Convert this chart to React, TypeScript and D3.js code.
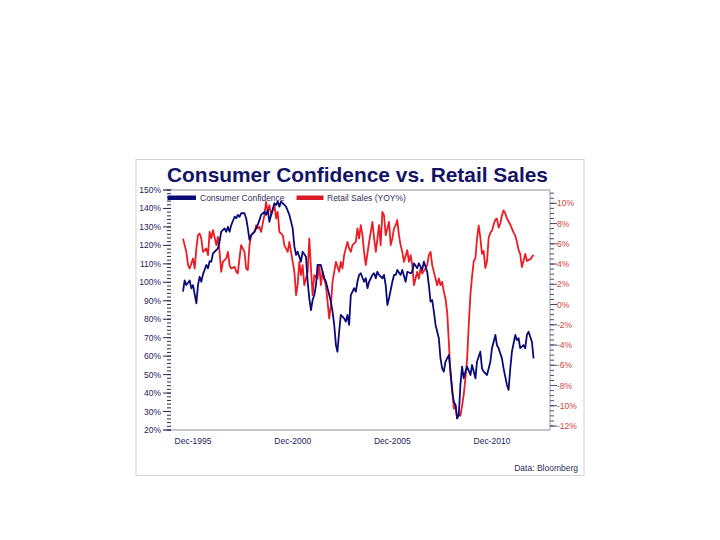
import * as d3 from "d3";

// Consumer Confidence index (left axis, %)
const ccDates = [
  "1995-06", "1995-07", "1995-08", "1995-10", "1995-11", "1995-12", "1996-02", "1996-03", "1996-04", "1996-05",
  "1996-06", "1996-08", "1996-09", "1996-10", "1996-11", "1996-12", "1997-02", "1997-03", "1997-04", "1997-05",
  "1997-07", "1997-08", "1997-09", "1997-10", "1997-11", "1998-01", "1998-02", "1998-03", "1998-04", "1998-05",
  "1998-07", "1998-08", "1998-09", "1998-10", "1998-11", "1999-01", "1999-02", "1999-03", "1999-04", "1999-05",
  "1999-07", "1999-08", "1999-09", "1999-10", "1999-11", "2000-01", "2000-02", "2000-03", "2000-04", "2000-05",
  "2000-07", "2000-08", "2000-10", "2000-12", "2001-01", "2001-02", "2001-03", "2001-05", "2001-06", "2001-08",
  "2001-09", "2001-10", "2001-11", "2001-12", "2002-01", "2002-02", "2002-03", "2002-05", "2002-06", "2002-07",
  "2002-08", "2002-09", "2002-11", "2002-12", "2003-01", "2003-02", "2003-03", "2003-04", "2003-05", "2003-07",
  "2003-08", "2003-09", "2003-10", "2003-11", "2004-01", "2004-02", "2004-03", "2004-04", "2004-05", "2004-07",
  "2004-08", "2004-09", "2004-10", "2004-12", "2005-01", "2005-02", "2005-03", "2005-04", "2005-06", "2005-07",
  "2005-08", "2005-09", "2005-10", "2005-12", "2006-01", "2006-02", "2006-03", "2006-05", "2006-06", "2006-08",
  "2006-09", "2006-11", "2006-12", "2007-01", "2007-03", "2007-04", "2007-06", "2007-07", "2007-09", "2007-10",
  "2007-11", "2007-12", "2008-01", "2008-02", "2008-04", "2008-05", "2008-06", "2008-07", "2008-08", "2008-10",
  "2008-11", "2008-12", "2009-01", "2009-02", "2009-03", "2009-04", "2009-05", "2009-06", "2009-07", "2009-08",
  "2009-09", "2009-11", "2009-12", "2010-02", "2010-03", "2010-05", "2010-06", "2010-07", "2010-09", "2010-11",
  "2010-12", "2011-02", "2011-03", "2011-04", "2011-06", "2011-07", "2011-09", "2011-10", "2011-11", "2011-12",
  "2012-02", "2012-03", "2012-04", "2012-05", "2012-07", "2012-08", "2012-09", "2012-10", "2012-12", "2013-01",
];
const ccValues = [
  95, 101, 98.5, 101, 96.7, 98.5, 88.6, 98.5, 103, 100.3,
  104.3, 109.4, 107.6, 111.5, 111.2, 115.7, 117.5, 118.4, 122, 127.4,
  129.2, 127.4, 130.1, 127.4, 131, 135.5, 134.7, 136.5, 135.5, 137.4,
  137.4, 134.7, 129.2, 123, 125.6, 127.4, 129.2, 131, 133.7, 136.5,
  138.2, 136.5, 139.2, 132.8, 136.5, 142.8, 141.9, 143.7, 141, 143.7,
  141.9, 141, 136.5, 129.2, 119.3, 114.8, 116.6, 111.2, 116.6, 113.9,
  100.3, 91.3, 85, 90.4, 93.1, 98.5, 109.4, 109.4, 105.7, 102.2,
  100.3, 96.8, 89.5, 84.1, 76.9, 66, 62.4, 73.2, 82.3, 80.5,
  78.7, 82.3, 76.9, 93.1, 96.8, 94.9, 100.3, 104, 104.9, 100.3,
  102.2, 96.8, 100.3, 104, 104.9, 102.2, 105.7, 104, 102.2, 104,
  98.5, 87.7, 91.3, 100.3, 104, 104, 106.7, 104, 106.7, 100.3,
  105.7, 104.9, 105.7, 110.3, 107.6, 110.3, 106.7, 111.2, 105.7, 98.5,
  89.5, 90.4, 84.1, 76.9, 69.7, 58.8, 53.4, 51.6, 57, 60.6,
  51.6, 40.7, 35.3, 33.5, 26.3, 28, 44.4, 54.3, 48, 51.6,
  54.3, 49.8, 55.2, 48, 57, 62.4, 53.4, 51.6, 49.8, 57,
  64.3, 71.5, 66, 64.3, 58.8, 53.4, 44.4, 41.7, 53.4, 62.4,
  71.5, 68.7, 69.7, 64.3, 66, 64.3, 71.5, 73.2, 67.8, 58.8,
];

// Retail Sales YoY (right axis, %)
const rsDates = [
  "1995-06", "1995-07", "1995-08", "1995-09", "1995-10", "1995-12", "1996-01", "1996-02", "1996-03", "1996-04",
  "1996-05", "1996-06", "1996-08", "1996-09", "1996-10", "1996-11", "1996-12", "1997-02", "1997-03", "1997-04",
  "1997-05", "1997-06", "1997-08", "1997-09", "1997-10", "1997-11", "1998-01", "1998-02", "1998-03", "1998-04",
  "1998-05", "1998-07", "1998-08", "1998-09", "1998-10", "1998-11", "1999-01", "1999-02", "1999-03", "1999-04",
  "1999-05", "1999-07", "1999-08", "1999-09", "1999-10", "1999-11", "2000-01", "2000-02", "2000-03", "2000-04",
  "2000-06", "2000-07", "2000-09", "2000-10", "2000-12", "2001-01", "2001-02", "2001-03", "2001-04", "2001-05",
  "2001-06", "2001-07", "2001-09", "2001-10", "2001-11", "2001-12", "2002-01", "2002-03", "2002-04", "2002-05",
  "2002-06", "2002-07", "2002-08", "2002-09", "2002-10", "2002-11", "2002-12", "2003-01", "2003-02", "2003-04",
  "2003-05", "2003-06", "2003-07", "2003-09", "2003-10", "2003-11", "2003-12", "2004-02", "2004-03", "2004-04",
  "2004-05", "2004-06", "2004-07", "2004-08", "2004-10", "2004-11", "2004-12", "2005-01", "2005-02", "2005-04",
  "2005-05", "2005-06", "2005-07", "2005-08", "2005-10", "2005-11", "2005-12", "2006-01", "2006-02", "2006-03",
  "2006-04", "2006-05", "2006-06", "2006-07", "2006-09", "2006-10", "2006-11", "2006-12", "2007-01", "2007-03",
  "2007-04", "2007-05", "2007-06", "2007-08", "2007-09", "2007-10", "2007-11", "2007-12", "2008-01", "2008-03",
  "2008-04", "2008-05", "2008-06", "2008-07", "2008-08", "2008-09", "2008-10", "2008-11", "2008-12", "2009-01",
  "2009-02", "2009-03", "2009-04", "2009-05", "2009-06", "2009-07", "2009-08", "2009-09", "2009-10", "2009-11",
  "2009-12", "2010-01", "2010-02", "2010-03", "2010-04", "2010-05", "2010-06", "2010-07", "2010-08", "2010-09",
  "2010-10", "2010-11", "2010-12", "2011-01", "2011-02", "2011-03", "2011-04", "2011-05", "2011-06", "2011-07",
  "2011-08", "2011-09", "2011-10", "2011-11", "2011-12", "2012-01", "2012-02", "2012-03", "2012-04", "2012-05",
  "2012-06", "2012-07", "2012-08", "2012-09", "2012-10", "2012-11", "2012-12", "2013-01",
];
const rsValues = [
  6.5, 5.87, 5.2, 3.89, 3.56, 4.55, 3.56, 5.54, 6.85, 7.02,
  6.53, 5.2, 5.54, 4.88, 7.18, 6.53, 7.35, 5.87, 6.69, 5.2,
  3.23, 4.22, 4.55, 5.2, 3.89, 3.56, 3.72, 3.23, 3.07, 4.55,
  5.87, 5.2, 3.56, 3.39, 5.87, 6.85, 7.18, 7.84, 7.52, 7.67,
  7.18, 8.83, 10.14, 9.16, 9.82, 8.83, 9.82, 8.5, 9.16, 7.18,
  6.85, 5.87, 5.2, 6.19, 4.22, 3.23, 0.92, 1.91, 4.22, 2.9,
  3.89, 1.91, 3.23, 6.53, 3.56, 0.92, 2.9, 2.57, 3.89, 1.91,
  3.23, 2.57, 1.91, 0.26, -1.38, -0.06, 2.24, 3.23, 4.22, 3.23,
  4.22, 3.56, 4.88, 6.19, 5.54, 5.2, 5.87, 6.19, 7.52, 6.53,
  7.84, 6.85, 5.2, 3.89, 6.19, 7.18, 8.17, 6.53, 5.2, 7.84,
  5.87, 9.16, 8.83, 6.85, 8.17, 5.87, 6.53, 7.52, 7.84, 8.34,
  6.85, 5.87, 5.2, 4.22, 5.37, 4.22, 4.88, 3.89, 1.91, 3.23,
  2.57, 3.56, 3.07, 3.56, 3.89, 4.88, 5.2, 3.89, 3.23, 1.91,
  2.57, 1.91, 2.24, 1.25, 0.6, -0.8, -3.69, -6.9, -8.2, -10.3,
  -9.94, -11.26, -10.8, -11.0, -10.0, -8.9, -7.3, -5.4, -2.0, 1.0,
  2.8, 4.3, 4.6, 6.5, 7.8, 6.6, 5.0, 5.3, 3.6, 4.3,
  6.6, 7.1, 7.3, 7.9, 8.4, 8.5, 7.6, 8.0, 8.8, 9.3,
  9.0, 8.5, 8.2, 7.9, 7.5, 7.1, 6.8, 6.2, 5.4, 4.98,
  3.7, 4.3, 5.0, 4.3, 4.4, 4.45, 4.7, 4.9,
];

const xTickDates = ["1995-12", "2000-12", "2005-12", "2010-12"];
const xTickLabels = ["Dec-1995", "Dec-2000", "Dec-2005", "Dec-2010"];
const leftTicks = [20, 30, 40, 50, 60, 70, 80, 90, 100, 110, 120, 130, 140, 150];
const rightTicks = [-12, -10, -8, -6, -4, -2, 0, 2, 4, 6, 8, 10];

const NAVY = "#0b0b78";
const RED = "#ec1c24";
const FONT = "Arial, 'Liberation Sans', Helvetica, sans-serif";

export default function App() {
  const parse = d3.timeParse("%Y-%m");

  // plot frame
  const left = 167;
  const right = 550;
  const top = 190;
  const bottom = 430;

  const x = d3
    .scaleTime()
    .domain([parse("1995-12")!, parse("2010-12")!])
    .range([193, 492]);
  const yL = d3.scaleLinear().domain([20, 150]).range([bottom, top]);
  const yR = d3.scaleLinear().domain([-12, 10]).range([426, 203.3]);

  const cc = ccDates.map((d, i) => ({ date: parse(d)!, v: ccValues[i] }));
  const rs = rsDates.map((d, i) => ({ date: parse(d)!, v: rsValues[i] }));

  const ccLine = d3
    .line<{ date: Date; v: number }>()
    .x((d) => x(d.date))
    .y((d) => yL(d.v));
  const rsLine = d3
    .line<{ date: Date; v: number }>()
    .x((d) => x(d.date))
    .y((d) => yR(d.v));

  const leftMinor = d3.range(20, 150.01, 2);
  const rightMinor = d3.range(-12, 11.01, 0.5);

  return (
    <svg
      width={720}
      height={540}
      viewBox="0 0 720 540"
      style={{ position: "absolute", left: 0, top: 0, display: "block", background: "#fff" }}
      fontFamily={FONT}
    >
      {/* chart box */}
      <rect x={136} y={159.5} width={448} height={316} fill="#fff" stroke="#d4d4d4" strokeWidth={1} />

      <text
        x={357.5}
        y={182}
        textAnchor="middle"
        fontSize={20.5}
        fontWeight="bold"
        fill="#141466"
        textLength={381}
        lengthAdjust="spacingAndGlyphs"
      >
        Consumer Confidence vs. Retail Sales
      </text>

      {/* frame lines */}
      <line x1={163} x2={right} y1={top} y2={top} stroke="#8c8ca6" strokeWidth={1} />
      <line x1={163} x2={right} y1={bottom} y2={bottom} stroke="#8c8ca6" strokeWidth={1} />
      <line x1={right} x2={right} y1={top} y2={bottom} stroke="#9a9ab0" strokeWidth={1} />

      {/* left axis */}
      {leftMinor.map((v) => (
        <line key={`lm${v}`} x1={left} x2={left + 4} y1={yL(v)} y2={yL(v)} stroke="#2a2a5a" strokeWidth={1} />
      ))}
      {leftTicks.map((v) => (
        <g key={`lt${v}`}>
          <line x1={left - 4} x2={left + 4} y1={yL(v)} y2={yL(v)} stroke="#2a2a5a" strokeWidth={1} />
          <text x={left - 6} y={yL(v) + 3} textAnchor="end" fontSize={8.5} fill="#23235e">
            {v}%
          </text>
        </g>
      ))}

      {/* right axis */}
      {rightMinor.map((v) => (
        <line key={`rm${v}`} x1={right} x2={right + 4} y1={yR(v)} y2={yR(v)} stroke="#4a4a70" strokeWidth={1} />
      ))}
      {rightTicks.map((v) => (
        <g key={`rt${v}`}>
          <line x1={right} x2={right + 7} y1={yR(v)} y2={yR(v)} stroke="#4a4a70" strokeWidth={1} />
          <text x={right + 7} y={yR(v) + 3} textAnchor="start" fontSize={8.5} fill="#d0443e">
            {v < 0 ? `-${Math.abs(v)}%` : `${v}%`}
          </text>
        </g>
      ))}

      {/* x labels */}
      {xTickDates.map((d, i) => (
        <text key={d} x={x(parse(d)!)} y={444} textAnchor="middle" fontSize={8.5} fill="#23235e">
          {xTickLabels[i]}
        </text>
      ))}

      {/* series */}
      <path d={rsLine(rs) ?? ""} fill="none" stroke={RED} strokeWidth={1.8} strokeLinejoin="round" />
      <path d={ccLine(cc) ?? ""} fill="none" stroke={NAVY} strokeWidth={1.8} strokeLinejoin="round" />

      {/* legend */}
      <rect x={167.5} y={195.5} width={28.5} height={4.5} fill={NAVY} />
      <text x={200} y={200.5} fontSize={8.5} fill="#30305e">
        Consumer Confidence
      </text>
      <rect x={296.5} y={195.5} width={27} height={4.5} fill="#d81a24" />
      <text x={327} y={200.5} fontSize={8.5} fill="#30305e">
        Retail Sales (YOY%)
      </text>

      <text x={578} y={471} textAnchor="end" fontSize={8.5} fill="#30305e">
        Data: Bloomberg
      </text>
    </svg>
  );
}
